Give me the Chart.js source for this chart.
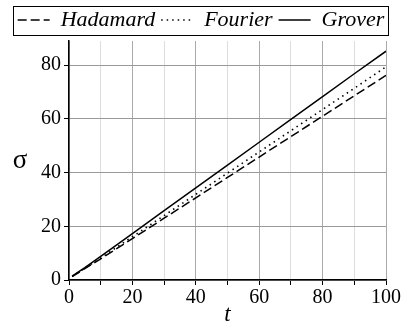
<!DOCTYPE html>
<html lang="en">
<head>
    <meta charset="UTF-8">
    <title>Spread of quantum walks</title>
    <script src="https://cdn.jsdelivr.net/npm/chart.js"></script>
    <style>
        html, body { margin: 0; padding: 0; background: #fff; }
        #wrap { width: 402px; height: 331px; }
    </style>
</head>
<body>
    <div id="wrap"><canvas id="sigmaChart"></canvas></div>
    <script>
        // Data
        const steps = [1, 5, 10, 20, 30, 40, 50, 60, 70, 80, 90, 100];
        const hadamard = [1.3, 4.2, 7.9, 15.4, 23.0, 30.6, 38.2, 45.8, 53.4, 61.0, 68.6, 76.2];
        const fourier = [1.4, 4.4, 8.2, 16.1, 24.0, 31.9, 39.8, 47.7, 55.6, 63.5, 71.4, 79.4];
        const grover = [1.4, 4.6, 8.8, 17.3, 25.8, 34.3, 42.8, 51.3, 59.8, 68.3, 76.8, 85.2];
        const xTickLabels = ['0', '20', '40', '60', '80', '100'];

        const serif = "'Liberation Serif', 'DejaVu Serif', serif";

        function pts(vals) {
            return steps.map((t, i) => ({ x: t, y: vals[i] }));
        }

        // box round the legend + upright sigma label
        const extras = {
            id: 'extras',
            afterDraw(chart) {
                const ctx = chart.ctx;
                const boxes = chart.legend.legendHitBoxes;
                if (boxes && boxes.length) {
                    const l = Math.min(...boxes.map(b => b.left)) - 5;
                    const r = Math.max(...boxes.map(b => b.left + b.width)) + 3;
                    const t = Math.min(...boxes.map(b => b.top)) - 3;
                    const bt = Math.max(...boxes.map(b => b.top + b.height)) + 4;
                    ctx.save();
                    ctx.strokeStyle = '#000';
                    ctx.lineWidth = 1;
                    ctx.strokeRect(Math.round(l) + 0.5, Math.round(t) + 0.5, Math.round(r - l), Math.round(bt - t));
                    ctx.restore();
                }
                const area = chart.chartArea;
                ctx.save();
                ctx.fillStyle = '#000';
                ctx.font = '27px ' + serif;
                ctx.textAlign = 'center';
                ctx.textBaseline = 'middle';
                ctx.fillText('σ', 20, (area.top + area.bottom) / 2);
                ctx.restore();
            }
        };

        const ctx = document.getElementById('sigmaChart').getContext('2d');
        new Chart(ctx, {
            type: 'scatter',
            data: {
                datasets: [
                    {
                        label: 'Hadamard',
                        data: pts(hadamard),
                        borderColor: '#000',
                        backgroundColor: '#000',
                        borderWidth: 1.5,
                        borderDash: [9, 4],
                        showLine: true,
                        pointRadius: 0
                    },
                    {
                        label: 'Fourier',
                        data: pts(fourier),
                        borderColor: '#000',
                        backgroundColor: '#000',
                        borderWidth: 1.6,
                        borderDash: [1.5, 4],
                        showLine: true,
                        pointRadius: 0
                    },
                    {
                        label: 'Grover',
                        data: pts(grover),
                        borderColor: '#000',
                        backgroundColor: '#000',
                        borderWidth: 1.5,
                        showLine: true,
                        pointRadius: 0
                    }
                ]
            },
            options: {
                responsive: true,
                maintainAspectRatio: false,
                animation: false,
                layout: { padding: { left: 0, right: 0, top: 3, bottom: 0 } },
                plugins: {
                    tooltip: { enabled: false },
                    legend: {
                        position: 'top',
                        labels: {
                            usePointStyle: true,
                            pointStyle: 'line',
                            pointStyleWidth: 32,
                            color: '#000',
                            padding: 6,
                            font: { family: serif, size: 22, style: 'italic' },
                            generateLabels: chart => {
                                const items = Chart.defaults.plugins.legend.labels.generateLabels(chart);
                                items.forEach(it => {
                                    const ds = chart.data.datasets[it.datasetIndex];
                                    it.lineDash = ds.borderDash || [];
                                    it.lineWidth = ds.borderWidth;
                                    it.strokeStyle = '#000';
                                });
                                return items;
                            }
                        }
                    }
                },
                scales: {
                    x: {
                        type: 'linear',
                        min: 0,
                        max: 100,
                        afterFit: s => { s.height = 51; },
                        ticks: {
                            stepSize: 10,
                            autoSkip: false,
                            maxRotation: 0,
                            color: '#000',
                            padding: 1,
                            font: { family: serif, size: 20 },
                            callback: v => (v % 20 === 0 ? xTickLabels[v / 20] : '')
                        },
                        grid: {
                            color: c => (c.tick && c.tick.value % 20 === 0 ? '#aaa' : '#ddd'),
                            tickColor: '#000',
                            tickLength: 5,
                            lineWidth: 1
                        },
                        border: { color: '#000', width: 1.5 },
                        title: {
                            display: true,
                            text: 't',
                            color: '#000',
                            padding: { top: 0, bottom: 2 },
                            font: { family: serif, size: 23, style: 'italic' }
                        }
                    },
                    y: {
                        min: 0,
                        max: 89,
                        afterFit: s => { s.width = 69; },
                        afterBuildTicks: s => { s.ticks = s.ticks.filter(t => t.value % 20 === 0); },
                        ticks: {
                            stepSize: 20,
                            color: '#000',
                            padding: 3,
                            font: { family: serif, size: 20 }
                        },
                        grid: {
                            color: '#999',
                            tickColor: '#000',
                            tickLength: 5
                        },
                        border: { color: '#000', width: 1.5 }
                    }
                }
            },
            plugins: [extras]
        });
    </script>
</body>
</html>
